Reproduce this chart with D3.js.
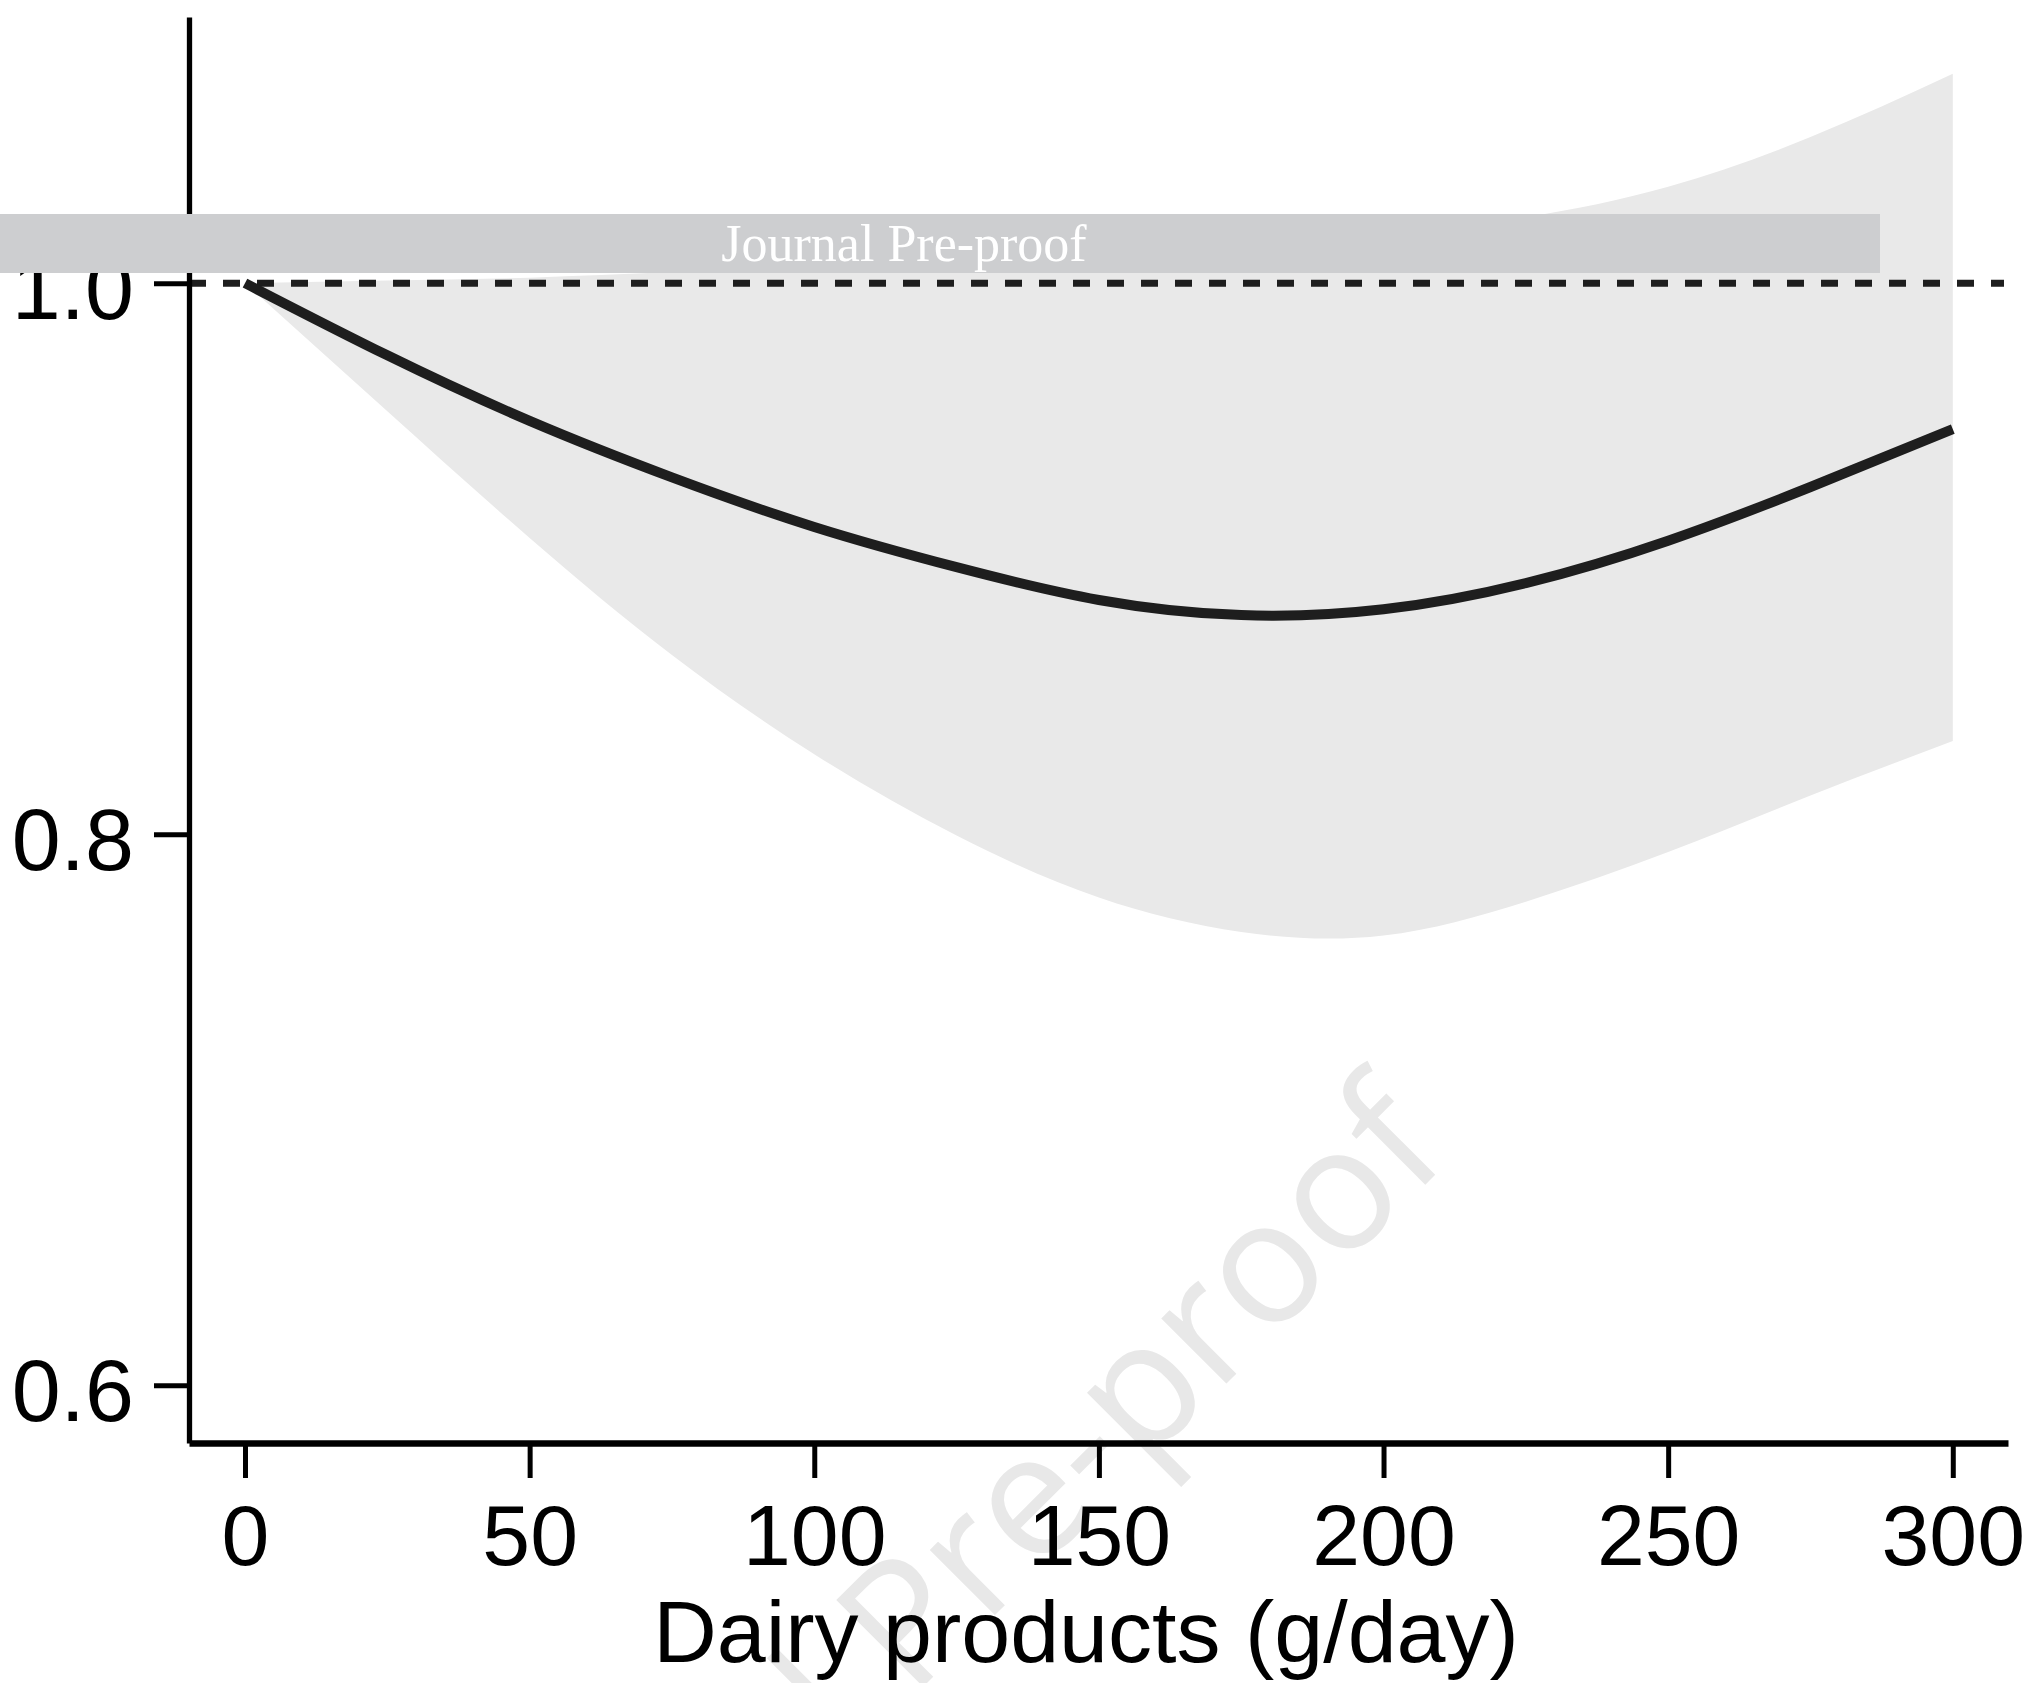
<!DOCTYPE html>
<html>
<head>
<meta charset="utf-8">
<script src="https://cdn.jsdelivr.net/npm/d3@7"></script>
<style>
    body { margin: 0; background: #fff; }
    svg { display: block; }
    .tick-label { font-family: "Liberation Sans", Arial, Helvetica, sans-serif; fill: #000; }
</style>
</head>
<body>
<svg id="chart"></svg>
<script>
var width = 2033;
var height = 1683;

// dairy intake (g/day) and the pooled relative risk with its 95% CI
var dose = [0, 25, 50, 75, 100, 125, 150, 175, 200, 225, 250, 275, 300];
var rr = [1.0, 0.9738, 0.950, 0.9295, 0.9115, 0.8969, 0.885, 0.8795, 0.8816, 0.8911, 0.9065, 0.926, 0.947];
var lower = [1.0, 0.9535, 0.9075, 0.865, 0.829, 0.7995, 0.777, 0.7645, 0.7632, 0.7755, 0.7935, 0.814, 0.8338];
var upper = [1.0, 1.001, 1.002, 1.004, 1.006, 1.008, 1.011, 1.014, 1.018, 1.024, 1.035, 1.053, 1.076];

var xTicks = [0, 50, 100, 150, 200, 250, 300];
var yTicks = [0.6, 0.8, 1.0];
var xTitle = 'Dairy products (g/day)';
var watermark = 'Journal Pre-proof';

var svg = d3.select('#chart')
    .attr('width', width)
    .attr('height', height);

svg.append('rect')
    .attr('width', width)
    .attr('height', height)
    .attr('fill', '#fff');

// big diagonal watermark, sits behind the chart
svg.append('text')
    .text(watermark)
    .attr('transform', 'translate(1453,1157) rotate(-45)')
    .attr('text-anchor', 'end')
    .attr('font-family', '"Open Sans", "Noto Sans", sans-serif')
    .attr('font-size', 172)
    .attr('fill', '#e8e8e8');

var x = d3.scaleLinear()
    .domain([-9.84, 309.7])
    .range([189, 2008]);

var y = d3.scaleLinear()
    .domain([0.579, 1.0966])
    .range([1443, 17]);

var points = dose.map(function (d, i) {
    return { dose: d, rr: rr[i], lo: lower[i], hi: upper[i] };
});

var band = d3.area()
    .x(function (d) { return x(d.dose); })
    .y0(function (d) { return y(d.lo); })
    .y1(function (d) { return y(d.hi); })
    .curve(d3.curveNatural);

svg.append('path')
    .datum(points)
    .attr('d', band)
    .attr('fill', '#e9e9e9');

// reference line at RR = 1
svg.append('line')
    .attr('x1', x.range()[0])
    .attr('x2', x.range()[1] - 4)
    .attr('y1', y(1))
    .attr('y2', y(1))
    .attr('stroke', '#1e1e1e')
    .attr('stroke-width', 7)
    .attr('stroke-dasharray', '17,17');

var line = d3.line()
    .x(function (d) { return x(d.dose); })
    .y(function (d) { return y(d.rr); })
    .curve(d3.curveNatural);

svg.append('path')
    .datum(points)
    .attr('d', line)
    .attr('fill', 'none')
    .attr('stroke', '#1e1e1e')
    .attr('stroke-width', 10);

// axes
var yAxis = svg.append('g')
    .attr('transform', 'translate(189,0)')
    .call(d3.axisLeft(y)
        .tickValues(yTicks)
        .tickFormat(d3.format('.1f'))
        .tickSize(35)
        .tickSizeOuter(0)
        .tickPadding(20));

yAxis.select('.domain').attr('stroke', '#000').attr('stroke-width', 5.3);
yAxis.selectAll('.tick line').attr('stroke', '#000').attr('stroke-width', 5);
yAxis.selectAll('.tick text')
    .attr('class', 'tick-label')
    .attr('font-size', 88)
    .attr('x', -55)
    .attr('dy', null)
    .attr('y', 35);

var xAxis = svg.append('g')
    .attr('transform', 'translate(0,1443)')
    .call(d3.axisBottom(x)
        .tickValues(xTicks)
        .tickSize(35)
        .tickSizeOuter(0)
        .tickPadding(20));

xAxis.select('.domain').attr('stroke', '#000').attr('stroke-width', 6.5);
xAxis.selectAll('.tick line').attr('stroke', '#000').attr('stroke-width', 5);
xAxis.selectAll('.tick text')
    .attr('class', 'tick-label')
    .attr('font-size', 86)
    .attr('dy', null)
    .attr('y', 122);

svg.append('text')
    .text(xTitle)
    .attr('class', 'tick-label')
    .attr('x', 1086)
    .attr('y', 1662)
    .attr('text-anchor', 'middle')
    .attr('font-size', 88);

// publisher banner across the top
svg.append('rect')
    .attr('x', 0)
    .attr('y', 214)
    .attr('width', 1880)
    .attr('height', 59)
    .attr('fill', '#cdced0');

svg.append('text')
    .text(watermark)
    .attr('x', 904)
    .attr('y', 261)
    .attr('text-anchor', 'middle')
    .attr('font-family', '"Liberation Serif", "Times New Roman", serif')
    .attr('font-size', 52)
    .attr('fill', '#fff');
</script>
</body>
</html>
